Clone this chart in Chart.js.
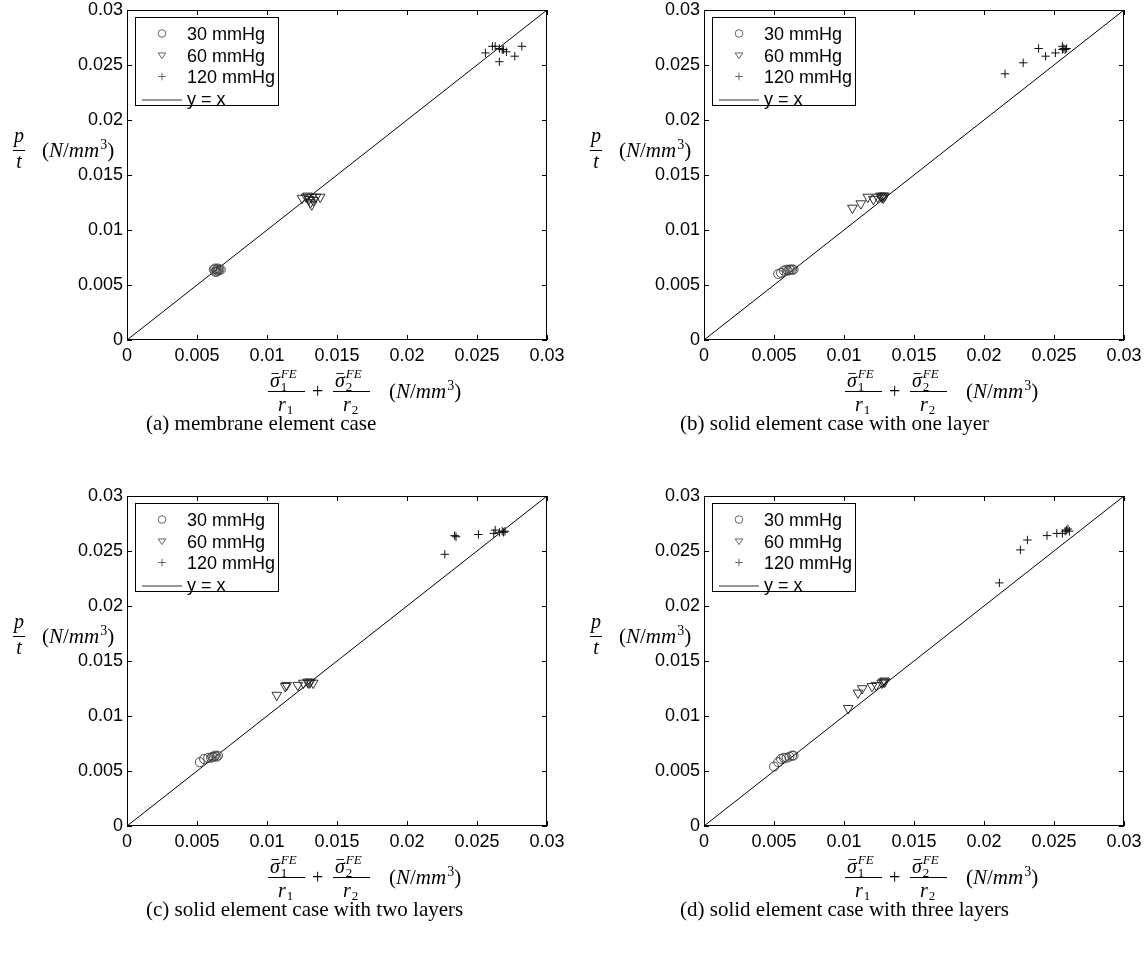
<!DOCTYPE html>
<html>
<head>
<meta charset="utf-8">
<title>p/t against the FE stress resultant</title>
<script src="https://cdn.jsdelivr.net/npm/chart.js@4.4.1/dist/chart.umd.min.js"></script>
<style>
  html, body { margin: 0; padding: 0; background: #fff; }
  body { position: relative; width: 1148px; height: 956px; overflow: hidden; }
  canvas { position: absolute; }
  .cap { position: absolute; font-family: "Liberation Serif", "Times New Roman", serif; font-size: 21px;
         line-height: 24px; white-space: nowrap; color: #000; }
</style>
</head>
<body>
<canvas id="pa" width="574" height="430" style="left:0;top:0"></canvas>
<canvas id="pb" width="574" height="430" style="left:574px;top:0"></canvas>
<canvas id="pc" width="574" height="430" style="left:0;top:486px"></canvas>
<canvas id="pd" width="574" height="430" style="left:574px;top:486px"></canvas>
<div class="cap" id="capA" style="left:146px;top:411px"></div>
<div class="cap" id="capB" style="left:680px;top:411px"></div>
<div class="cap" id="capC" style="left:146px;top:897px"></div>
<div class="cap" id="capD" style="left:680px;top:897px"></div>
<script>
// ---- shared axis ticks and labels ----
const tickValues = [0, 0.005, 0.01, 0.015, 0.02, 0.025, 0.03];
const tickLabels = ['0', '0.005', '0.01', '0.015', '0.02', '0.025', '0.03'];
const seriesLabels = ['30 mmHg', '60 mmHg', '120 mmHg'];
const identityLabel = 'y = x';
const identityEnds = [0, 0.03];
const captions = [
  '(a) membrane element case',
  '(b) solid element case with one layer',
  '(c) solid element case with two layers',
  '(d) solid element case with three layers'
];

// ---- (a) membrane elements ----
const membrane30x  = [0.0062, 0.0063, 0.0064, 0.0065, 0.0066, 0.0064, 0.0067, 0.0065, 0.0063];
const membrane30y  = [0.0064, 0.0065, 0.0064, 0.0065, 0.0064, 0.0062, 0.0064, 0.0063, 0.0062];
const membrane60x  = [0.0125, 0.0128, 0.0130, 0.0131, 0.0132, 0.0133, 0.0135, 0.0138, 0.0129, 0.0132];
const membrane60y  = [0.0129, 0.0130, 0.0128, 0.0125, 0.0130, 0.0127, 0.0130, 0.0130, 0.0131, 0.0123];
const membrane120x = [0.0256, 0.0261, 0.0263, 0.0266, 0.0268, 0.0269, 0.0271, 0.0266, 0.0277, 0.0282];
const membrane120y = [0.0261, 0.0267, 0.0267, 0.0265, 0.0264, 0.0264, 0.0262, 0.0253, 0.0258, 0.0267];

// ---- (b) solid elements, one layer ----
const oneLayer30x  = [0.0053, 0.0055, 0.0057, 0.0059, 0.0060, 0.0061, 0.0062, 0.0063, 0.0064];
const oneLayer30y  = [0.0060, 0.0061, 0.0063, 0.0064, 0.0063, 0.0064, 0.0064, 0.0064, 0.0064];
const oneLayer60x  = [0.0106, 0.0112, 0.0117, 0.0121, 0.0124, 0.0126, 0.0127, 0.0128, 0.0129, 0.0128];
const oneLayer60y  = [0.0120, 0.0124, 0.0130, 0.0128, 0.0130, 0.0131, 0.0130, 0.0131, 0.0131, 0.0129];
const oneLayer120x = [0.0215, 0.0228, 0.0239, 0.0244, 0.0251, 0.0256, 0.0257, 0.0258, 0.0259, 0.0256];
const oneLayer120y = [0.0242, 0.0252, 0.0265, 0.0258, 0.0261, 0.0267, 0.0265, 0.0264, 0.0265, 0.0264];

// ---- (c) solid elements, two layers ----
const twoLayer30x  = [0.0052, 0.0055, 0.0058, 0.0060, 0.0061, 0.0062, 0.0063, 0.0064, 0.0065];
const twoLayer30y  = [0.0058, 0.0061, 0.0062, 0.0062, 0.0063, 0.0063, 0.0064, 0.0063, 0.0064];
const twoLayer60x  = [0.0107, 0.0113, 0.0114, 0.0122, 0.0126, 0.0129, 0.0130, 0.0131, 0.0133];
const twoLayer60y  = [0.0119, 0.0127, 0.0128, 0.0128, 0.0130, 0.0131, 0.0130, 0.0131, 0.0130];
const twoLayer120x = [0.0227, 0.0234, 0.0235, 0.0251, 0.0262, 0.0263, 0.0266, 0.0268, 0.0269, 0.0270];
const twoLayer120y = [0.0247, 0.0264, 0.0263, 0.0265, 0.0266, 0.0269, 0.0267, 0.0268, 0.0267, 0.0268];

// ---- (d) solid elements, three layers ----
const threeLayer30x  = [0.0050, 0.0053, 0.0055, 0.0057, 0.0059, 0.0061, 0.0063, 0.0064];
const threeLayer30y  = [0.0054, 0.0058, 0.0061, 0.0062, 0.0062, 0.0063, 0.0064, 0.0064];
const threeLayer60x  = [0.0103, 0.0110, 0.0113, 0.0120, 0.0123, 0.0127, 0.0128, 0.0129, 0.0129];
const threeLayer60y  = [0.0107, 0.0121, 0.0125, 0.0127, 0.0128, 0.0130, 0.0131, 0.0132, 0.0131];
const threeLayer120x = [0.0211, 0.0226, 0.0231, 0.0245, 0.0252, 0.0256, 0.0258, 0.0259, 0.0260, 0.0261];
const threeLayer120y = [0.0221, 0.0251, 0.0260, 0.0264, 0.0266, 0.0266, 0.0268, 0.0269, 0.0270, 0.0268];

// ---- drawing helpers ----
const SANS = '"Liberation Sans", Arial, Helvetica, sans-serif';
const SERIF = '"Liberation Serif", "Times New Roman", serif';
const mfont = (size, italic) => (italic ? 'italic ' : '') + size + 'px ' + SERIF;

Chart.defaults.font.family = SANS;
Chart.defaults.font.size = 18;
Chart.defaults.color = '#000';

function hline(ctx, x1, x2, y, w) {
  ctx.beginPath(); ctx.lineWidth = w || 1;
  ctx.moveTo(x1, y); ctx.lineTo(x2, y); ctx.stroke();
}

function drawMarker(ctx, style, x, y, r) {
  ctx.beginPath();
  if (style === 'circle') {
    ctx.arc(x, y, r, 0, Math.PI * 2);
  } else if (style === 'triangle') {
    const h = r * Math.sqrt(3) / 2;
    ctx.moveTo(x - r, y - h / 1.6);
    ctx.lineTo(x + r, y - h / 1.6);
    ctx.lineTo(x, y + h * 1.1);
    ctx.closePath();
  } else {
    ctx.moveTo(x - r, y); ctx.lineTo(x + r, y);
    ctx.moveTo(x, y - r); ctx.lineTo(x, y + r);
  }
  ctx.stroke();
}

// sigma-bar_k^FE over r_k, starting at x, fraction bar at yBar
function sigmaFraction(ctx, x, yBar, k) {
  ctx.font = mfont(20, true);
  const sw = ctx.measureText('\u03c3').width;
  ctx.fillText('\u03c3', x + 2, yBar - 5);
  hline(ctx, x + 3.5, x + 1 + sw, yBar - 18, 0.9);
  ctx.font = mfont(13, false);
  ctx.fillText(k, x + 3 + sw, yBar - 1);
  ctx.font = mfont(13, true);
  ctx.fillText('FE', x + 3 + sw, yBar - 14);
  hline(ctx, x, x + 37, yBar, 1);
  ctx.font = mfont(20, true);
  const rw = ctx.measureText('r').width;
  ctx.fillText('r', x + 10, yBar + 19);
  ctx.font = mfont(13, false);
  ctx.fillText(k, x + 11 + rw, yBar + 22);
}

// (N/mm^3) with baseline at y
function unitsText(ctx, x, y) {
  let cx = x;
  const put = (t, f, dy) => { ctx.font = f; ctx.fillText(t, cx, y + (dy || 0)); cx += ctx.measureText(t).width; };
  put('(', mfont(21, false));
  put('N', mfont(21, true));
  put('/', mfont(21, false));
  put('mm', mfont(21, true));
  cx += 1;
  put('3', mfont(14, false), -8);
  put(')', mfont(21, false));
}

const framePlugin = {
  id: 'frame',
  afterDatasetsDraw(chart) {
    const { ctx, chartArea: a, scales } = chart;
    ctx.save();
    ctx.strokeStyle = '#000';
    ctx.lineWidth = 1;
    ctx.strokeRect(a.left + 0.5, a.top + 0.5, a.right - a.left - 1, a.bottom - a.top - 1);
    const t = 5;
    ctx.beginPath();
    tickValues.forEach(v => {
      const px = Math.round(scales.x.getPixelForValue(v)) + 0.5;
      const py = Math.round(scales.y.getPixelForValue(v)) + 0.5;
      ctx.moveTo(px, a.bottom); ctx.lineTo(px, a.bottom - t);
      ctx.moveTo(px, a.top); ctx.lineTo(px, a.top + t);
      ctx.moveTo(a.left, py); ctx.lineTo(a.left + t, py);
      ctx.moveTo(a.right, py); ctx.lineTo(a.right - t, py);
    });
    ctx.stroke();
    ctx.restore();
  }
};

const legendPlugin = {
  id: 'boxLegend',
  afterDraw(chart) {
    const { ctx, chartArea: a } = chart;
    const L = a.left, T = a.top;
    ctx.save();
    ctx.fillStyle = '#fff';
    ctx.fillRect(L + 8, T + 7, 143, 88);
    ctx.strokeStyle = '#000';
    ctx.lineWidth = 1;
    ctx.strokeRect(L + 8.5, T + 7.5, 143, 88);
    const baselines = [30, 51.5, 73, 94.5];
    ctx.font = '18px ' + SANS;
    ctx.fillStyle = '#000';
    ctx.textBaseline = 'alphabetic';
    chart.data.datasets.forEach((ds, i) => {
      const yb = T + baselines[i];
      ctx.strokeStyle = '#555';
      ctx.lineWidth = 0.9;
      if (ds.showLine) {
        ctx.strokeStyle = '#333';
        hline(ctx, L + 15, L + 55, yb - 4.5, 1);
      } else {
        drawMarker(ctx, ds.pointStyle, L + 35, yb - 6.5, 3.8);
      }
      ctx.fillText(ds.label, L + 60, yb);
    });
    ctx.restore();
  }
};

const titlePlugin = {
  id: 'mathTitles',
  afterDraw(chart) {
    const { ctx, chartArea: a } = chart;
    const L = a.left, T = a.top, B = a.bottom;
    ctx.save();
    ctx.fillStyle = '#000';
    ctx.strokeStyle = '#000';
    ctx.textBaseline = 'alphabetic';
    // horizontal axis title
    const X0 = L + 141, yBar = B + 51.5;
    sigmaFraction(ctx, X0, yBar, '1');
    ctx.font = mfont(20, false);
    ctx.fillText('+', X0 + 44, yBar + 6);
    sigmaFraction(ctx, X0 + 65, yBar, '2');
    unitsText(ctx, X0 + 121, yBar + 6.5);
    // vertical axis title
    const yb = T + 140.5;
    ctx.font = mfont(20, true);
    ctx.textAlign = 'center';
    ctx.fillText('p', L - 108, yb - 9);
    ctx.fillText('t', L - 108, yb + 17);
    hline(ctx, L - 114, L - 102, yb, 1);
    ctx.textAlign = 'left';
    unitsText(ctx, L - 85, yb + 6);
    ctx.restore();
  }
};

function buildPanel(id, axisWidth, rightPad, xs30, ys30, xs60, ys60, xs120, ys120) {
  const pts = (xs, ys) => xs.map((x, i) => ({ x: x, y: ys[i] }));
  const fixTicks = scale => { scale.ticks = tickValues.map(v => ({ value: v })); };
  return new Chart(document.getElementById(id), {
    type: 'scatter',
    data: {
      datasets: [
        { label: seriesLabels[0], data: pts(xs30, ys30), pointStyle: 'circle', pointRadius: 4.5,
          borderColor: '#3c3c3c', backgroundColor: 'rgba(0,0,0,0)', pointBorderWidth: 0.9 },
        { label: seriesLabels[1], data: pts(xs60, ys60), pointStyle: 'triangle', pointRotation: 180,
          pointRadius: 5.6, borderColor: '#1c1c1c', backgroundColor: 'rgba(0,0,0,0)', pointBorderWidth: 0.9 },
        { label: seriesLabels[2], data: pts(xs120, ys120), pointStyle: 'cross', pointRadius: 4.2,
          borderColor: '#111', backgroundColor: 'rgba(0,0,0,0)', pointBorderWidth: 1 },
        { label: identityLabel, data: identityEnds.map(v => ({ x: v, y: v })), showLine: true,
          borderColor: '#000', borderWidth: 1, pointRadius: 0 }
      ]
    },
    options: {
      responsive: false,
      animation: false,
      events: [],
      layout: { padding: { left: 0, top: 10, right: rightPad, bottom: 0 } },
      plugins: { legend: { display: false }, tooltip: { enabled: false } },
      scales: {
        x: {
          type: 'linear', position: 'bottom', min: 0, max: 0.03,
          grid: { display: false, drawTicks: false }, border: { display: false },
          afterBuildTicks: fixTicks,
          ticks: { padding: 5, maxRotation: 0, autoSkip: false, font: { size: 18 },
                   callback: (v, i) => tickLabels[i] },
          afterFit: s => { s.height = 90; s.paddingLeft = 0; s.paddingRight = 0; }
        },
        y: {
          type: 'linear', position: 'left', min: 0, max: 0.03,
          grid: { display: false, drawTicks: false }, border: { display: false },
          afterBuildTicks: fixTicks,
          ticks: { padding: 4, autoSkip: false, font: { size: 18 },
                   callback: (v, i) => tickLabels[i] },
          afterFit: s => { s.width = axisWidth; s.paddingTop = 0; s.paddingBottom = 0; }
        }
      }
    },
    plugins: [framePlugin, legendPlugin, titlePlugin]
  });
}

buildPanel('pa', 127, 27, membrane30x, membrane30y, membrane60x, membrane60y, membrane120x, membrane120y);
buildPanel('pb', 130, 24, oneLayer30x, oneLayer30y, oneLayer60x, oneLayer60y, oneLayer120x, oneLayer120y);
buildPanel('pc', 127, 27, twoLayer30x, twoLayer30y, twoLayer60x, twoLayer60y, twoLayer120x, twoLayer120y);
buildPanel('pd', 130, 24, threeLayer30x, threeLayer30y, threeLayer60x, threeLayer60y, threeLayer120x, threeLayer120y);

['capA', 'capB', 'capC', 'capD'].forEach((id, i) => { document.getElementById(id).textContent = captions[i]; });
</script>
</body>
</html>
